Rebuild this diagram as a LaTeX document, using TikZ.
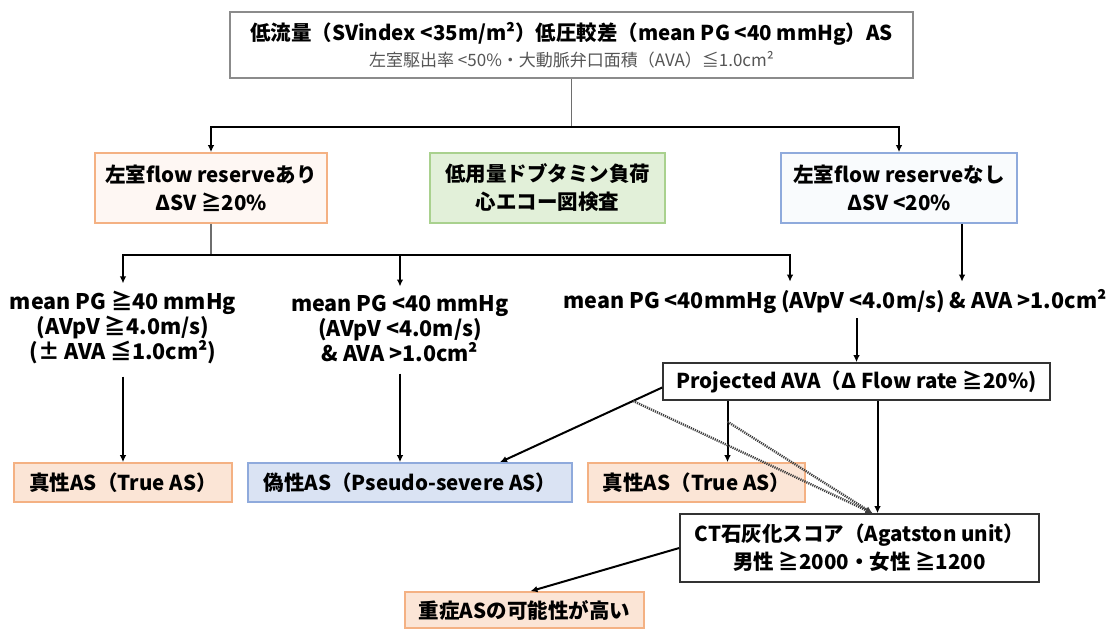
\documentclass[tikz,border=0pt]{standalone}
\usepackage{fontspec}
\setmainfont{Noto Sans CJK JP}
\usetikzlibrary{arrows.meta,calc}

\definecolor{peachfill}{HTML}{FBE5D6}
\definecolor{peachline}{HTML}{F4B183}
\definecolor{greenfill}{HTML}{E2F0D9}
\definecolor{greenline}{HTML}{A9D18E}
\definecolor{bluefill}{HTML}{DAE3F3}
\definecolor{blueline}{HTML}{8FAADC}
\definecolor{greyline}{HTML}{6E6E6E}
\definecolor{greytext}{HTML}{555555}

\begin{document}
\begin{tikzpicture}[
        x=1pt, y=-1pt,
        font=\bfseries\fontsize{20.5}{28}\selectfont,
        box/.style={draw=greyline, line width=1.6pt, inner sep=0pt, align=center},
        peachbox/.style={box, draw=peachline, fill=peachfill},
        greenbox/.style={box, draw=greenline, fill=greenfill},
        bluebox/.style={box, draw=blueline, fill=bluefill},
        label/.style={inner sep=0pt, align=center, font=\bfseries\fontsize{21.5}{25}\selectfont},
        arrow/.style={line width=2pt, -{Latex[length=7pt,width=6.5pt]}},
        dottedarrow/.style={arrow, line width=2.4pt, dash pattern=on 1.2pt off 1pt, draw=black!75}
    ]
    \useasboundingbox (0,0) rectangle (1110,630);

    % header
    \node[box, draw=greyline!80, line width=2.2pt, minimum width=683, minimum height=66] (lowflow) at (571.5,45)
        {低流量（SVindex <35m/m²）低圧較差（mean PG <40 mmHg）AS\\[-2pt]
         {\mdseries\fontsize{17}{20}\selectfont\color{greytext}左室駆出率 <50\%・大動脈弁口面積（AVA）≦1.0cm²}};

    % first row
    \node[box, draw=peachline, fill=peachfill!30, minimum width=232, minimum height=70] (reserveyes) at (211,188)
        {左室flow reserveあり\\ΔSV ≧20\%};
    \node[greenbox, minimum width=235, minimum height=70] (dobutamine) at (547.5,188)
        {低用量ドブタミン負荷\\心エコー図検査};
    \node[box, draw=blueline, fill=bluefill!15, minimum width=236, minimum height=70] (reserveno) at (899,188)
        {左室flow reserveなし\\ΔSV <20\%};

    % second row
    \node[label] (pghigh) at (123,328)
        {mean PG ≧40 mmHg\\(AVpV ≧4.0m/s)\\(± AVA ≦1.0cm²)};
    \node[label] (pglow) at (400,328)
        {mean PG <40 mmHg\\(AVpV <4.0m/s)\\\& AVA >1.0cm²};
    \node[label] (pglowno) at (835,302)
        {mean PG <40mmHg (AVpV <4.0m/s) \& AVA >1.0cm²};
    \node[box, draw=black!80, minimum width=387, minimum height=37] (projava) at (856.5,381.5)
        {Projected AVA（Δ Flow rate ≧20\%)};

    % third row
    \node[peachbox, minimum width=218, minimum height=39] (trueasleft) at (123,482.5)
        {真性AS（True AS）};
    \node[bluebox, minimum width=324, minimum height=39] (pseudoas) at (410,482.5)
        {偽性AS（Pseudo-severe AS）};
    \node[peachbox, minimum width=217, minimum height=39] (trueasright) at (696.5,482.5)
        {真性AS（True AS）};
    \node[box, draw=black!80, minimum width=359, minimum height=68] (ctscore) at (859.5,548)
        {CT石灰化スコア（Agatston unit）\\男性 ≧2000・女性 ≧1200};
    \node[peachbox, minimum width=239, minimum height=36] (severeas) at (524.5,610)
        {重症ASの可能性が高い};

    % connectors
    \coordinate (split1) at (571.5,127);
    \coordinate (split2) at (211,255);
    \draw[line width=1.5pt, greyline] (lowflow.south) -- (split1);
    \draw[arrow] (split1) -| (reserveyes.north);
    \draw[arrow] (split1) -| (reserveno.north);

    \draw[line width=1.5pt, greyline] (reserveyes.south) -- (split2);
    \draw[arrow] (split2) -| ([yshift=8pt]pghigh.north);
    \draw[arrow] (pglow.north |- split2) -- ([yshift=8pt]pglow.north);
    \draw[arrow] (split2) -| ([xshift=-45pt,yshift=8pt]pglowno.north);
    \draw[arrow] ([xshift=63pt]reserveno.south) -- ([xshift=63pt,yshift=8pt]reserveno.south |- pglowno.north);

    \draw[arrow] ([yshift=-4pt]projava.north |- pglowno.south) -- (projava.north);
    \draw[arrow] ([yshift=-12pt]pghigh.south) -- (trueasleft.north);
    \draw[arrow] ([yshift=-12pt]pglow.south) -- (pglow.south |- pseudoas.north);

    \draw[arrow] ([yshift=-6pt]projava.west) -- ([xshift=90pt]pseudoas.north)
        coordinate[pos=0.18] (dotstart1);
    \draw[arrow] ([xshift=31pt]trueasright.north |- projava.south) -- ([xshift=31pt]trueasright.north)
        coordinate[pos=0.34] (dotstart2);
    \draw[arrow] ([xshift=18pt]ctscore.north |- projava.south) -- ([xshift=18pt]ctscore.north);
    \draw[dottedarrow] (dotstart1) -- ([xshift=13pt]ctscore.north);
    \draw[dottedarrow] (dotstart2) -- ([xshift=13pt]ctscore.north);

    \draw[arrow] (ctscore.west) -- ([xshift=6pt]severeas.north);
\end{tikzpicture}
\end{document}
